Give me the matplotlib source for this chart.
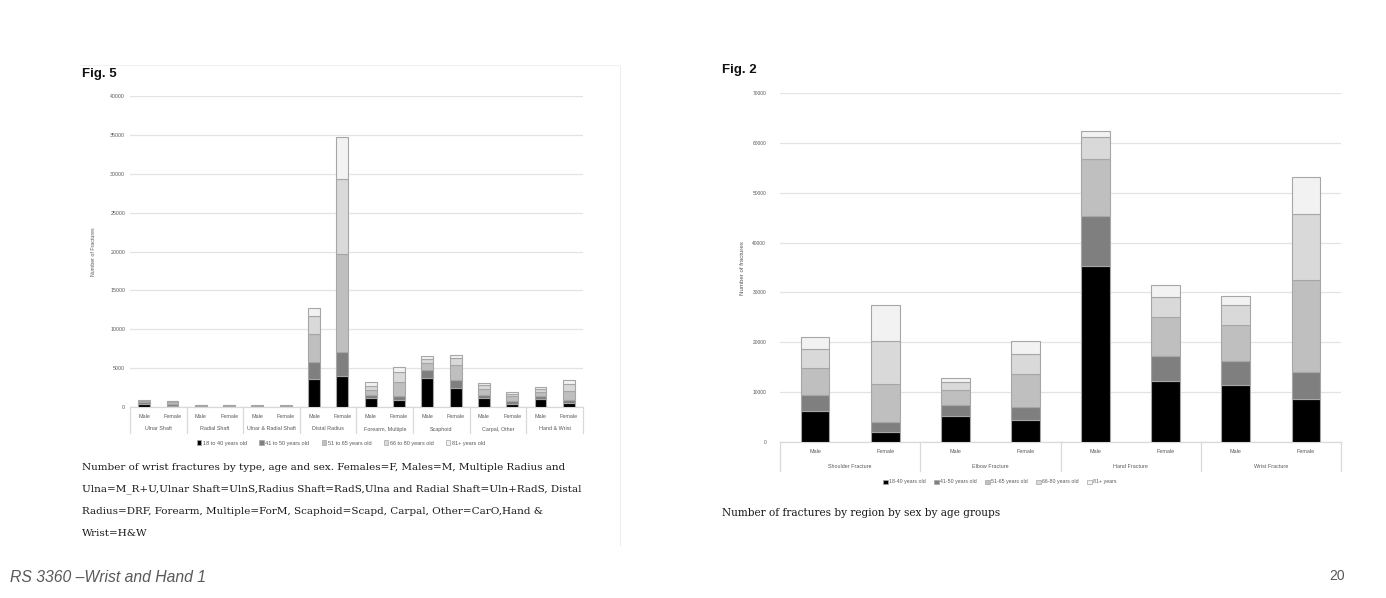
import matplotlib
matplotlib.use("Agg")
import matplotlib.pyplot as plt
from matplotlib.patches import Patch
import numpy as np

W, H = 1386, 598

# ---- Fig. 5 : wrist fractures by type, sex and age ----
f5_groups = ["Ulnar Shaft", "Radial Shaft", "Ulnar & Radial Shaft", "Distal Radius",
             "Forearm, Multiple", "Scaphoid", "Carpal, Other", "Hand & Wrist"]
f5_sexes = ["Male", "Female"]
f5_ages = ["18 to 40 years old", "41 to 50 years old", "51 to 65 years old",
           "66 to 80 years old", "81+ years old"]
# one list per age band, bars in order Male/Female for each group
f5_18_40 = [350, 100, 30, 20, 20, 15, 3600, 3940, 1160, 860, 3770, 2480, 1160, 430, 990, 510]
f5_41_50 = [250, 350, 50, 40, 30, 30, 2140, 3170, 420, 540, 940, 990, 420, 300, 380, 390]
f5_51_65 = [150, 200, 90, 90, 70, 70, 3680, 12590, 650, 1800, 940, 1880, 730, 640, 510, 1110]
f5_66_80 = [80, 80, 60, 60, 50, 50, 2310, 9640, 510, 1300, 520, 950, 520, 340, 430, 950]
f5_81p = [30, 30, 30, 30, 30, 30, 950, 5360, 430, 640, 430, 420, 250, 220, 220, 550]
f5_ticks = [0, 5000, 10000, 15000, 20000, 25000, 30000, 35000, 40000]

# ---- Fig. 2 : fractures by region, sex and age ----
f2_groups = ["Shoulder Fracture", "Elbow Fracture", "Hand Fracture", "Wrist Fracture"]
f2_sexes = ["Male", "Female"]
f2_ages = ["18-40 years old", "41-50 years old", "51-65 years old", "66-80 years old", "81+ years"]
f2_18_40 = [6170, 2010, 5230, 4360, 35230, 12210, 11410, 8660]
f2_41_50 = [3160, 1880, 2090, 2550, 10070, 5040, 4900, 5430]
f2_51_65 = [5500, 7720, 3020, 6650, 11610, 7850, 7110, 18330]
f2_66_80 = [3830, 8730, 1740, 4090, 4300, 4090, 4100, 13280]
f2_81p = [2410, 7110, 740, 2620, 1210, 2220, 1740, 7520]
f2_ticks = [0, 10000, 20000, 30000, 40000, 50000, 60000, 70000]

fills = ["#000000", "#7f7f7f", "#bfbfbf", "#d9d9d9", "#f2f2f2"]
edge = "#a6a6a6"
grid_c = "#e3e3e3"
txt_c = "#595959"
sans = "Liberation Sans"

fig = plt.figure(figsize=(W / 100, H / 100), dpi=100)
fig.patch.set_facecolor("white")


def px_axes(x0, y0, x1, y1):
    return fig.add_axes([x0 / W, 1 - y1 / H, (x1 - x0) / W, (y1 - y0) / H])


def ftext(x, y, s, **kw):
    fig.text(x / W, 1 - y / H, s, **kw)


def stacked(ax, series, ticks, groups, sexes, box, fs_tick, fs_cat, width, pad,
            lab_dy, grp_dy, sep_dy):
    n = len(series[0])
    pos = np.arange(n)
    bottom = np.zeros(n)
    for vals, col in zip(series, fills):
        ax.bar(pos, vals, width, bottom=bottom, color=col, edgecolor=edge, linewidth=0.8, zorder=3)
        bottom += np.array(vals)
    ax.set_xlim(-0.5, n - 0.5)
    ax.set_ylim(0, ticks[-1])
    ax.set_yticks(ticks)
    ax.set_yticklabels([str(t) for t in ticks], fontsize=fs_tick, color=txt_c, family=sans)
    ax.tick_params(axis="y", length=0, pad=pad)
    ax.set_xticks([])
    ax.grid(axis="y", color=grid_c, linewidth=0.9, zorder=0)
    for s in ["top", "right", "left"]:
        ax.spines[s].set_visible(False)
    ax.spines["bottom"].set_color("#d9d9d9")
    ax.spines["bottom"].set_linewidth(0.9)
    ah = box[3] - box[1]
    tr = ax.get_xaxis_transform()
    for i in range(n):
        ax.text(pos[i], -lab_dy / ah, sexes[i % 2], transform=tr, ha="center", va="center",
                fontsize=fs_cat, color=txt_c, family=sans)
    for g, name in enumerate(groups):
        ax.text(2 * g + 0.5, -grp_dy / ah, name, transform=tr, ha="center", va="center",
                fontsize=fs_cat, color=txt_c, family=sans)
    for g in range(len(groups) + 1):
        ax.plot([2 * g - 0.5, 2 * g - 0.5], [0, -sep_dy / ah], transform=tr, color="#d9d9d9",
                linewidth=0.9, clip_on=False)


# faint slide frame lines
fig.add_artist(plt.Line2D([620 / W, 620 / W], [1 - 545 / H, 1 - 65 / H], color="#eeeeee", linewidth=0.8))
fig.add_artist(plt.Line2D([80 / W, 620 / W], [1 - 65 / H, 1 - 65 / H], color="#f2f2f2", linewidth=0.8))

# ---------- left chart ----------
box5 = (130, 96, 583, 407)
ax5 = px_axes(*box5)
stacked(ax5, [f5_18_40, f5_41_50, f5_51_65, f5_66_80, f5_81p], f5_ticks, f5_groups, f5_sexes,
        box5, fs_tick=3.8, fs_cat=3.9, width=0.42, pad=3.5, lab_dy=9, grp_dy=22, sep_dy=26)
ax5.set_ylabel("Number of Fractures", fontsize=3.8, color=txt_c, family=sans, labelpad=10)
ftext(82, 74, "Fig. 5", fontsize=9.5, fontweight="bold", family=sans, va="center", color="#111111")
h5 = [Patch(facecolor=c, edgecolor=edge, linewidth=0.5) for c in fills]
fig.legend(h5, f5_ages, loc="center", bbox_to_anchor=(341 / W, 1 - 443 / H), ncol=5, frameon=False,
           prop={"family": sans, "size": 4.0}, handlelength=0.8, handleheight=0.8,
           handletextpad=0.3, columnspacing=2.2, labelcolor=txt_c)

cap5 = ["Number of wrist fractures by type, age and sex. Females=F, Males=M, Multiple Radius and",
        "Ulna=M_R+U,Ulnar Shaft=UlnS,Radius Shaft=RadS,Ulna and Radial Shaft=Uln+RadS, Distal",
        "Radius=DRF, Forearm, Multiple=ForM, Scaphoid=Scapd, Carpal, Other=CarO,Hand &",
        "Wrist=H&W"]
for k, line in enumerate(cap5):
    ftext(82, 467 + k * 22, line, fontsize=7.5, family="DejaVu Serif", va="center", color="#1a1a1a")

# ---------- right chart ----------
box2 = (780, 93.5, 1341, 441.7)
ax2 = px_axes(*box2)
stacked(ax2, [f2_18_40, f2_41_50, f2_51_65, f2_66_80, f2_81p], f2_ticks, f2_groups, f2_sexes,
        box2, fs_tick=3.5, fs_cat=3.9, width=0.41, pad=10, lab_dy=9.5, grp_dy=24.5, sep_dy=29)
ax2.set_ylabel("Number of fractures", fontsize=4.4, color=txt_c, family=sans, labelpad=5)
ftext(722, 70, "Fig. 2", fontsize=9.5, fontweight="bold", family=sans, va="center", color="#111111")
h2 = [Patch(facecolor=c, edgecolor=edge, linewidth=0.5) for c in fills]
fig.legend(h2, f2_ages, loc="center", bbox_to_anchor=(1000 / W, 1 - 482 / H), ncol=5, frameon=False,
           prop={"family": sans, "size": 3.8}, handlelength=0.8, handleheight=0.8,
           handletextpad=0.3, columnspacing=1.6, labelcolor=txt_c)
ftext(722, 513, "Number of fractures by region by sex by age groups", fontsize=7.6,
      family="DejaVu Serif", va="center", color="#1a1a1a")

# footer
ftext(10, 578, "RS 3360 \u2013Wrist and Hand 1", fontsize=11.3, style="italic", family=sans,
      va="center", color="#595959")
ftext(1345, 576, "20", fontsize=10, family=sans, va="center", ha="right", color="#595959")

fig.savefig("out.png", dpi=100, facecolor="white")
